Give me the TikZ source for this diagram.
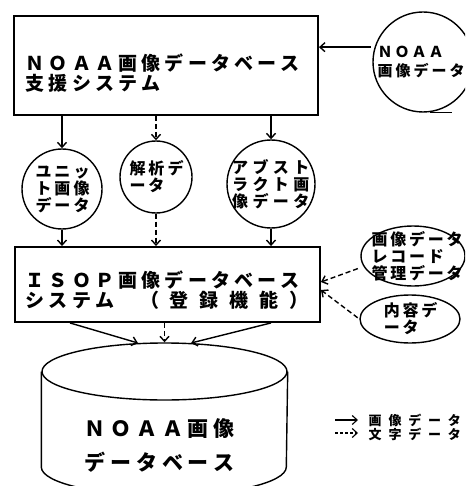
\documentclass[tikz,border=0pt]{standalone}
\usepackage{fontspec}
\newfontfamily\jp{Noto Sans CJK JP}
\usepackage{tikz}
\usetikzlibrary{arrows.meta}
\usetikzlibrary{shapes.geometric,positioning}

% characters set on a fixed pitch
\newlength\pitch
\newcommand\pitched[2]{\setlength\pitch{#1}\pitchedloop#2\relax}
\def\pitchedloop#1{\ifx\relax#1\else\makebox[\pitch][l]{#1}\expandafter\pitchedloop\fi}

\tikzset{
  boxtxt/.style={font=\jp\bfseries\fontsize{19}{20}\selectfont, align=left, inner sep=0pt, anchor=west},
  circtxt/.style={font=\jp\bfseries\fontsize{16}{17}\selectfont, align=left, inner sep=0pt},
  dbtxt/.style={font=\jp\bfseries\fontsize{21}{34}\selectfont, align=left, inner sep=0pt, anchor=west},
  keytxt/.style={font=\jp\bfseries\fontsize{13}{13}\selectfont, inner sep=0pt, anchor=west},
  textflow/.style={dash pattern=on 5pt off 3pt}
}

\begin{document}
\begin{tikzpicture}[x=1pt,y=-1pt,line width=1.4pt]
  \useasboundingbox (0,0) rectangle (465,486);
  \clip (0,0) rectangle (465,486);

  % systems
  \begin{scope}[every node/.style={draw,rectangle,line width=1.9pt,inner sep=0pt}]
    \node[minimum width=304pt,minimum height=99pt] (supp) at (166,65.5) {};
    \node[minimum width=305pt,minimum height=75pt] (isop) at (167.5,284.5) {};
  \end{scope}
  \node[boxtxt] (supptxt) at (25,73)
    {\pitched{23.2pt}{ＮＯＡＡ画像データベース}\\\pitched{23.2pt}{支援システム}};
  \node[boxtxt] (isoptxt) at (25,290)
    {\pitched{23.2pt}{ＩＳＯＰ画像データベース}\\\pitched{23.2pt}{システム}\hspace{21.7pt}\pitched{29.8pt}{（登録機能）}};

  % data
  \begin{scope}[every node/.style={draw,circle,inner sep=0pt}]
    \node[minimum size=80pt] (unit) at (62,189) {};
    \node[minimum size=72pt] (anal) at (156,177) {};
    \node[minimum size=88pt] (abst) at (271,184) {};
    \node[minimum size=100pt] (noaa) at (423,62) {};
  \end{scope}
  \begin{scope}[every node/.style={draw,ellipse,inner sep=0pt}]
    \node[minimum width=104pt,minimum height=60pt] (rec) at (413,256) {};
    \node[minimum width=100pt,minimum height=48pt] (cont) at (410,319) {};
  \end{scope}
  \node[circtxt] (unittxt) at ([xshift=2pt]unit)
    {\pitched{19pt}{ユニッ}\\\pitched{19pt}{ト画像}\\\pitched{19pt}{データ}};
  \node[circtxt] (analtxt) at ([xshift=2pt]anal) {\pitched{19pt}{解析デ}\\\pitched{19pt}{ータ}};
  \node[circtxt] (absttxt) at ([xshift=2pt]abst)
    {\pitched{20.5pt}{アブスト}\\\pitched{20.5pt}{ラクト画}\\\pitched{20.5pt}{像データ}};
  \node[circtxt,anchor=west,font=\jp\bfseries\fontsize{15}{19}\selectfont]
    (noaatxt) at (377,62) {\pitched{17pt}{ＮＯＡＡ}\\\pitched{18pt}{画像データ}};
  \node[circtxt,anchor=west] (rectxt) at (371,256)
    {\pitched{18.7pt}{画像データ}\\\pitched{18.7pt}{レコード}\\\pitched{18.7pt}{管理データ}};
  \node[circtxt] (conttxt) at ([xshift=2pt]cont) {\pitched{18.7pt}{内容デ}\\\pitched{18.7pt}{ータ}};
  \draw (noaa.-82) -- ++(22,0);

  % database
  \node[draw,ellipse,inner sep=0pt,minimum width=245pt,minimum height=57pt] (dbtop) at (164.5,371.5) {};
  \draw (dbtop.west) -- ++(0,95.5) arc[start angle=180,end angle=0,x radius=122.5,y radius=28.5]
    -- (dbtop.east);
  \node[dbtxt] (dbt) at (84,445) {\pitched{25.8pt}{ＮＯＡＡ画像}\\\pitched{25.8pt}{データベース}};

  % flows
  \begin{scope}[>={Straight Barb[length=5pt,width=9pt]}]
    \path[->] (supp.south -| unit) edge (unit);
    \path[->,textflow] (supp.south -| anal) edge (anal);
    \path[->] (supp.south -| abst) edge (abst);
    \draw[->,shorten <=4pt] (noaa.163) -- (noaa.163 -| supp.east);
    \path[->] (unit) edge (unit |- isop.north);
    \path[->,textflow] (anal) edge (anal |- isop.north);
    \path[->] (abst) edge (abst |- isop.north);
    \draw[->,textflow,shorten <=6pt] (rec.192) -- ([yshift=2.5pt]isop.east);
    \draw[->,textflow,shorten <=2pt] (cont.west) -- ([yshift=-5.5pt]isop.east);
    \draw[->] ([xshift=8pt]isop.south -| unit) -- (dbtop.133);
    \draw[->,textflow] (isop.south -| dbtop.north) -- (dbtop.north);
    \draw[->] (isop.south -| abst) -- (dbtop.47);

    % key
    \coordinate (k1a) at (335,420);
    \coordinate (k1b) at (358,420);
    \coordinate (k2a) at (335,433);
    \coordinate (k2b) at (358,433);
    \draw[->,line width=1.1pt] (k1a) -- (k1b);
    \draw[->,line width=1.1pt,dash pattern=on 3pt off 2pt] (k2a) -- (k2b);
  \end{scope}
  \node[keytxt] (k1txt) at (368,420) {\pitched{19.8pt}{画像データ}};
  \node[keytxt] (k2txt) at (368,434) {\pitched{19.8pt}{文字データ}};
\end{tikzpicture}
\end{document}
